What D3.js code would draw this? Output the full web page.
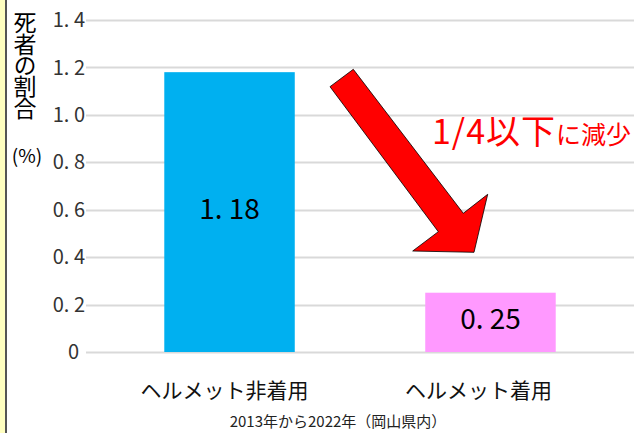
<!DOCTYPE html>
<html><head><meta charset="utf-8">
<script src="https://cdn.jsdelivr.net/npm/d3@7"></script>
<style>
html,body{margin:0;padding:0;background:#fff;}
svg{display:block;font-family:"Noto Sans CJK JP","Noto Sans",sans-serif;}
</style></head>
<body>
<svg id="c" width="640" height="433"></svg>
<script>
const categories = ["ヘルメット非着用", "ヘルメット着用"];
const values = [1.18, 0.25];
const valueLabels = ["1. 18", "0. 25"];
const barColors = ["#00B0F0", "#FF99FF"];
const tickValues = [0, 0.2, 0.4, 0.6, 0.8, 1.0, 1.2, 1.4];
const tickLabels = ["0", "0. 2", "0. 4", "0. 6", "0. 8", "1. 0", "1. 2", "1. 4"];
const yTitle = "死者の割合";
const yUnit = "(%)";
const note = "2013年から2022年（岡山県内）";
const calloutBig = "1/4以下";
const calloutSmall = "に減少";

const svg = d3.select("#c");

// left border strip
svg.append("rect").attr("x",0).attr("y",0).attr("width",5).attr("height",433).attr("fill","#FFFFC0");
svg.append("rect").attr("x",5).attr("y",0).attr("width",2).attr("height",433).attr("fill","#555");

const y = d3.scaleLinear().domain([0, 1.4]).range([352, 20]);
const x = d3.scaleBand().domain(categories).range([86, 634]).paddingInner(0.5).paddingOuter(0.3);

// gridlines
svg.append("g").selectAll("line").data(tickValues).join("line")
  .attr("x1", 86).attr("x2", 634)
  .attr("y1", d => Math.round(y(d))+0.5).attr("y2", d => Math.round(y(d))+0.5)
  .attr("stroke", "#d9d9d9").attr("stroke-width", 2);

// tick labels
svg.append("g").selectAll("text").data(tickValues).join("text")
  .attr("x", (d,i) => i === 0 ? 79 : 85)
  .attr("y", d => y(d))
  .attr("dy", "0.36em")
  .attr("text-anchor", "end")
  .attr("font-size", 20)
  .attr("fill", "#333")
  .text((d,i) => tickLabels[i]);

// bars
svg.append("g").selectAll("rect").data(values).join("rect")
  .attr("x", (d,i) => x(categories[i]))
  .attr("width", x.bandwidth())
  .attr("y", d => y(d))
  .attr("height", d => y(0) - y(d))
  .attr("fill", (d,i) => barColors[i]);

// value labels
svg.append("g").selectAll("text").data(values).join("text")
  .attr("x", (d,i) => x(categories[i]) + x.bandwidth()/2)
  .attr("y", d => (y(d) + y(0))/2 - 3)
  .attr("dy", "0.36em")
  .attr("text-anchor", "middle")
  .attr("font-size", 28)
  .attr("fill", "#000")
  .text((d,i) => valueLabels[i]);

// category labels
svg.append("g").selectAll("text").data(categories).join("text")
  .attr("x", (d,i) => x(d) + x.bandwidth()/2 - (i === 0 ? 5 : 12))
  .attr("y", 390)
  .attr("dy", "0.36em")
  .attr("text-anchor", "middle")
  .attr("font-size", 21)
  .attr("fill", "#111")
  .text(d => d);

// note
svg.append("text").attr("x", 338).attr("y", 422).attr("dy","0.36em")
  .attr("text-anchor","middle").attr("font-size", 15).attr("fill","#222").text(note);

// y title vertical
svg.append("text")
  .attr("x", 25).attr("y", 11)
  .attr("writing-mode", "tb")
  .attr("glyph-orientation-vertical", 0)
  .attr("font-size", 23).attr("letter-spacing", -1.6)
  .attr("fill","#000").text(yTitle);
svg.append("text").attr("x", 27).attr("y", 156).attr("dy","0.36em")
  .attr("text-anchor","middle").attr("font-size", 19).attr("fill","#000").text(yUnit);

// arrow
const arrowPts = [
  [330, 86.7], [353.3, 69.3], [463.3, 213.3], [487.7, 194.3],
  [474, 252.3], [412.7, 251], [438.3, 231.7]
];
svg.append("polygon")
  .attr("points", arrowPts.map(p => p.join(",")).join(" "))
  .attr("fill", "#FF0000").attr("stroke", "#000").attr("stroke-width", 0.8);

// callout text
const t = svg.append("text").attr("x", 432).attr("y", 138).attr("dy","0.36em")
  .attr("fill","#FF0000");
t.append("tspan").attr("font-size", 34).attr("letter-spacing", 1).text(calloutBig);
t.append("tspan").attr("font-size", 25).text(calloutSmall);
</script>
</body></html>
